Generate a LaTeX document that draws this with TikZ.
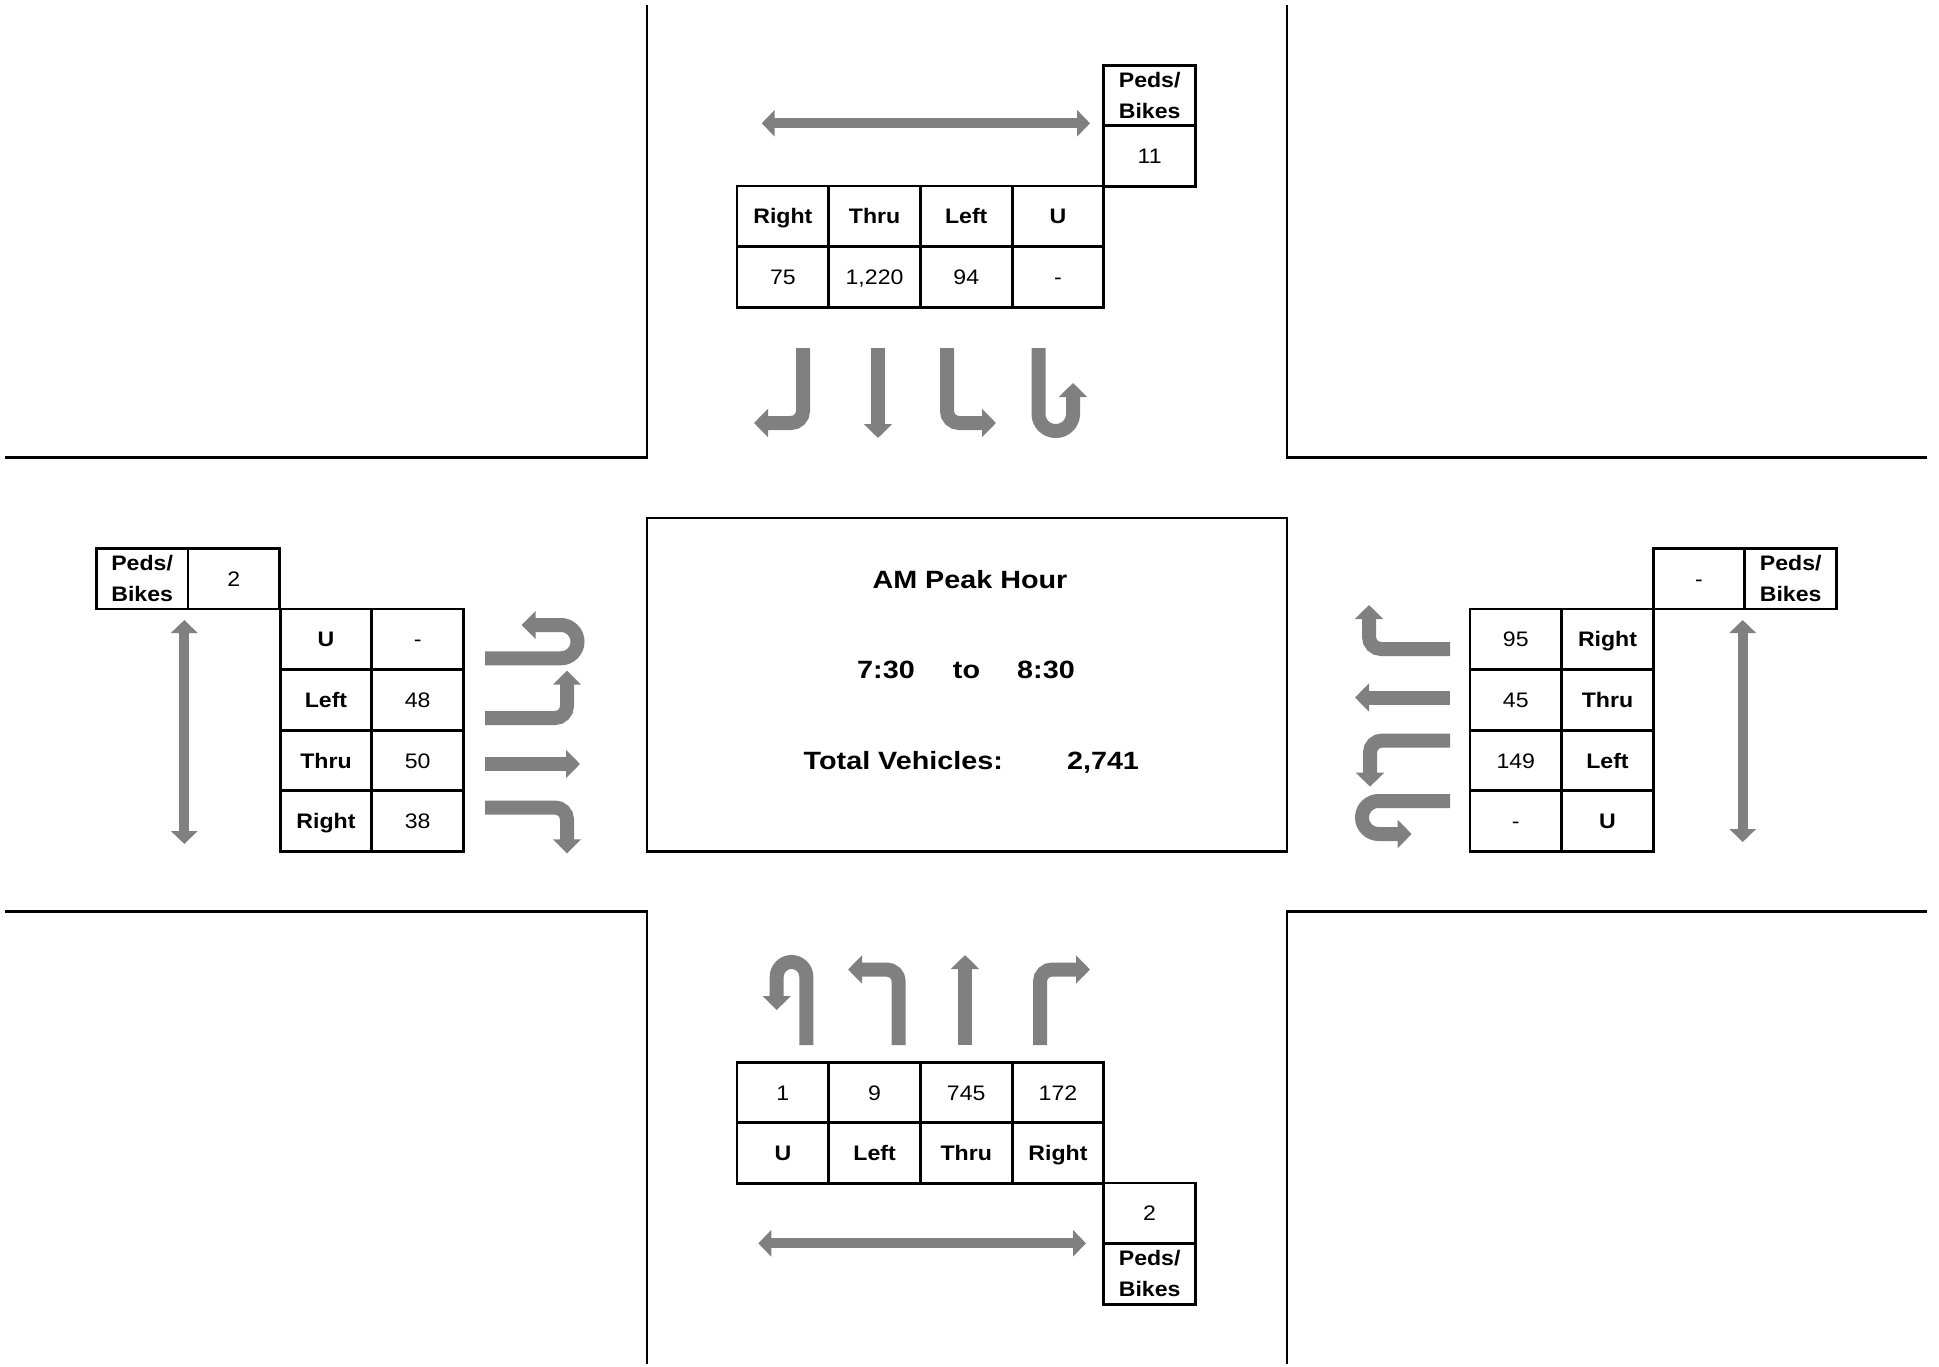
\documentclass[tikz,border=0pt]{standalone}
\usepackage{fontspec}
\setmainfont{Liberation Sans}
\usepackage{graphicx}
\usetikzlibrary{arrows.meta}
\definecolor{arrowgray}{RGB}{128,128,128}
\newcommand{\hs}[1]{\scalebox{1.1}[1]{#1}}
\newcommand{\hc}[1]{\scalebox{1.15}[1]{#1}}
\begin{document}
\begin{tikzpicture}[x=1pt,y=-1pt,
  road/.style={line width=2.5pt, black},
  cellbox/.style={draw, line width=2.8pt, minimum width=91.7pt, minimum height=60.6pt, inner sep=0pt, outer sep=0pt, font=\fontsize{21}{31}\selectfont},
  lab/.style={cellbox, text height=15pt, text depth=0pt, font=\fontsize{21}{31}\selectfont\bfseries},
  val/.style={cellbox, text height=15pt, text depth=0pt},
  peds/.style={cellbox, align=center, font=\fontsize{21}{31}\selectfont\bfseries},
  mv/.style={draw=arrowgray, line width=14pt, -{Triangle[width=27.5pt,length=14pt]}, rounded corners=12pt},
  pb/.style={draw=arrowgray, line width=10pt, {Triangle[width=26pt,length=13pt]}-{Triangle[width=26pt,length=13pt]}},
  ctext/.style={font=\fontsize{25}{28}\selectfont\bfseries, anchor=base, inner sep=0pt}
]
\fill[white] (0,0) rectangle (1939,1367);
\useasboundingbox (0,0) rectangle (1939,1367);

% roads
\draw[road] (5,457.5) -- (647,457.5) -- (647,5);
\draw[road] (1287,5) -- (1287,457.5) -- (1927,457.5);
\draw[road] (5,911.4) -- (647,911.4) -- (647,1364);
\draw[road] (1287,1364) -- (1287,911.4) -- (1927,911.4);

% center box
\draw[line width=2.8pt] (647,518) rectangle (1287,851.7);
\node[ctext] (title) at (970,588.3) {\hc{AM Peak Hour}};
\node[ctext] (t1) at (886,678.3) {\hc{7:30}};
\node[ctext] (t2) at (966.5,678.3) {\hc{to}};
\node[ctext] (t3) at (1046,678.3) {\hc{8:30}};
\node[ctext] (tv) at (903.3,769) {\hc{Total Vehicles:}};
\node[ctext] (tvn) at (1103,769) {\hc{2,741}};

% ---------- North (top) ----------
\node[lab] (nR) at (782.85,216.4) {\hs{Right}};
\node[lab] (nT) at (874.55,216.4) {\hs{Thru}};
\node[lab] (nL) at (966.25,216.4) {\hs{Left}};
\node[lab] (nU) at (1057.95,216.4) {\hs{U}};
\node[val] (nRv) at (782.85,277) {\hs{75}};
\node[val] (nTv) at (874.55,277) {\hs{1,220}};
\node[val] (nLv) at (966.25,277) {\hs{94}};
\node[val] (nUv) at (1057.95,277) {\hs{-}};
\node[peds] (nP) at (1149.65,95.5) {\hs{Peds/}\\\hs{Bikes}};
\node[val] (nPv) at (1149.65,156) {\hs{11}};
\draw[pb] (761.7,123.3) -- (1090,123.3);
\draw[mv] (803,348) |- (754,423);
\draw[mv] (878,348) -- (878,438);
\draw[mv] (947,348) |- (996,423);
\draw[mv, rounded corners=17pt] (1038.5,348) -- (1038.5,431) -- (1073,431) -- (1073,383);

% ---------- South (bottom) ----------
\node[val] (sUv) at (782.85,1092.6) {\hs{1}};
\node[val] (sLv) at (874.55,1092.6) {\hs{9}};
\node[val] (sTv) at (966.25,1092.6) {\hs{745}};
\node[val] (sRv) at (1057.95,1092.6) {\hs{172}};
\node[lab] (sU) at (782.85,1153) {\hs{U}};
\node[lab] (sL) at (874.55,1153) {\hs{Left}};
\node[lab] (sT) at (966.25,1153) {\hs{Thru}};
\node[lab] (sR) at (1057.95,1153) {\hs{Right}};
\node[val] (sPv) at (1149.65,1213.2) {\hs{2}};
\node[peds] (sP) at (1149.65,1273.8) {\hs{Peds/}\\\hs{Bikes}};
\draw[pb] (758.3,1243.3) -- (1086,1243.3);
\draw[mv, rounded corners=14.8pt] (806.3,1045) -- (806.3,962) -- (776.7,962) -- (776.7,1010);
\draw[mv] (898.7,1045) |- (848,969.5);
\draw[mv] (965,1045) -- (965,955);
\draw[mv] (1040,1045) |- (1090,969.5);

% ---------- West (left) ----------
\node[peds] (wP) at (142.15,578.7) {\hs{Peds/}\\\hs{Bikes}};
\node[val] (wPv) at (233.85,578.7) {\hs{2}};
\node[lab] (wU) at (326,639.3) {\hs{U}};
\node[lab] (wL) at (326,699.9) {\hs{Left}};
\node[lab] (wT) at (326,760.5) {\hs{Thru}};
\node[lab] (wR) at (326,821.1) {\hs{Right}};
\node[val] (wUv) at (417.7,639.3) {\hs{-}};
\node[val] (wLv) at (417.7,699.9) {\hs{48}};
\node[val] (wTv) at (417.7,760.5) {\hs{50}};
\node[val] (wRv) at (417.7,821.1) {\hs{38}};
\draw[pb] (184.3,620) -- (184.3,844);
\draw[mv, rounded corners=16.6pt] (485,658.3) -- (577.5,658.3) -- (577.5,625) -- (521.7,625);
\draw[mv] (485,718) -| (567,670.7);
\draw[mv] (485,764) -- (580,764);
\draw[mv] (485,807.5) -| (567,853.3);

% ---------- East (right) ----------
\node[val] (ePv) at (1699,578.7) {\hs{-}};
\node[peds] (eP) at (1790.7,578.7) {\hs{Peds/}\\\hs{Bikes}};
\node[val] (eRv) at (1515.8,639.3) {\hs{95}};
\node[val] (eTv) at (1515.8,699.9) {\hs{45}};
\node[val] (eLv) at (1515.8,760.5) {\hs{149}};
\node[val] (eUv) at (1515.8,821.1) {\hs{-}};
\node[lab] (eR) at (1607.5,639.3) {\hs{Right}};
\node[lab] (eT) at (1607.5,699.9) {\hs{Thru}};
\node[lab] (eL) at (1607.5,760.5) {\hs{Left}};
\node[lab] (eU) at (1607.5,821.1) {\hs{U}};
\draw[pb] (1742.7,620) -- (1742.7,842);
\draw[mv] (1450,649) -| (1369,605);
\draw[mv] (1450,697.5) -- (1355,697.5);
\draw[mv] (1450,740.5) -| (1370,786.7);
\draw[mv, rounded corners=16.5pt] (1450,801) -- (1362,801) -- (1362,834) -- (1411.7,834);
\end{tikzpicture}
\end{document}
